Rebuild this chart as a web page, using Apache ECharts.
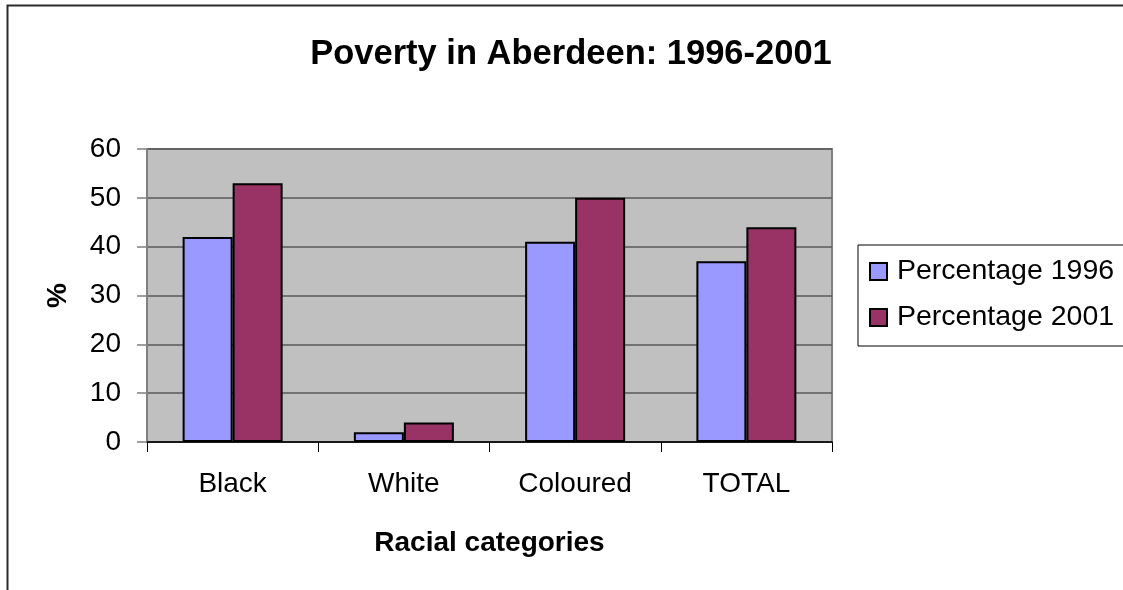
<!DOCTYPE html>
<html>
<head>
<meta charset="utf-8">
<script src="https://cdn.jsdelivr.net/npm/echarts@6/dist/echarts.min.js"></script>
<style>
html,body{margin:0;padding:0;background:#fff;}
#chart{width:1123px;height:590px;}
</style>
</head>
<body>
<div id="chart"></div>
<script>
var categories = ['Black', 'White', 'Coloured', 'TOTAL'];
var pct1996 = [42, 2, 41, 37];
var pct2001 = [53, 4, 50, 44];
var yTicks = [0, 10, 20, 30, 40, 50, 60];

var FONT = '"Liberation Sans", Arial, sans-serif';
var chart = echarts.init(document.getElementById('chart'));
chart.setOption({
  backgroundColor: '#ffffff',
  animation: false,
  graphic: [{
    type: 'rect',
    shape: {x: 7.5, y: 5.5, width: 1300, height: 800},
    style: {fill: 'none', stroke: '#2a2a2a', lineWidth: 2},
    silent: true
  }],
  title: {
    text: 'Poverty in Aberdeen: 1996-2001',
    left: 571,
    textAlign: 'center',
    top: 37,
    padding: 0,
    textStyle: {fontFamily: FONT, fontSize: 34.5, fontWeight: 'bold', color: '#000'}
  },
  legend: {
    orient: 'vertical',
    left: 858,
    top: 245,
    padding: [12, 60, 14, 11],
    itemGap: 17,
    itemWidth: 17,
    itemHeight: 17,
    icon: 'rect',
    borderColor: '#000',
    borderWidth: 1,
    backgroundColor: '#fff',
    textStyle: {fontFamily: FONT, fontSize: 28.5, color: '#000', padding: [0, 0, 0, 5]},
    itemStyle: {borderColor: '#000', borderWidth: 2},
    data: ['Percentage 1996', 'Percentage 2001']
  },
  grid: {
    left: 147, right: 291, top: 149, bottom: 148,
    show: true,
    backgroundColor: '#C0C0C0',
    borderColor: '#808080',
    borderWidth: 2
  },
  xAxis: {
    type: 'category',
    data: categories,
    name: 'Racial categories',
    nameLocation: 'middle',
    nameGap: 87,
    nameTextStyle: {fontFamily: FONT, fontSize: 28, fontWeight: 'bold', color: '#000'},
    axisLine: {lineStyle: {color: '#000', width: 1.5}},
    axisTick: {show: true, length: 10, lineStyle: {color: '#000'}},
    axisLabel: {fontFamily: FONT, fontSize: 28, color: '#000', margin: 28},
    splitLine: {show: false}
  },
  yAxis: {
    type: 'value',
    min: yTicks[0],
    max: yTicks[yTicks.length - 1],
    interval: 10,
    name: '%',
    nameLocation: 'middle',
    nameGap: 75,
    nameTextStyle: {fontFamily: FONT, fontSize: 28, fontWeight: 'bold', color: '#000'},
    axisLine: {show: true, lineStyle: {color: '#808080', width: 2}},
    axisTick: {show: true, length: 10, lineStyle: {color: '#808080', width: 1.5}},
    axisLabel: {fontFamily: FONT, fontSize: 28, color: '#000', margin: 26},
    splitLine: {show: true, lineStyle: {color: '#5a5a5a', width: 1.5}}
  },
  series: [{
    name: 'Percentage 1996',
    type: 'bar',
    data: pct1996,
    barWidth: 50,
    barGap: '0%',
    itemStyle: {color: '#9999FF', borderColor: '#000', borderWidth: 2}
  }, {
    name: 'Percentage 2001',
    type: 'bar',
    data: pct2001,
    barWidth: 50,
    barGap: '0%',
    itemStyle: {color: '#993366', borderColor: '#000', borderWidth: 2}
  }]
});
</script>
</body>
</html>
